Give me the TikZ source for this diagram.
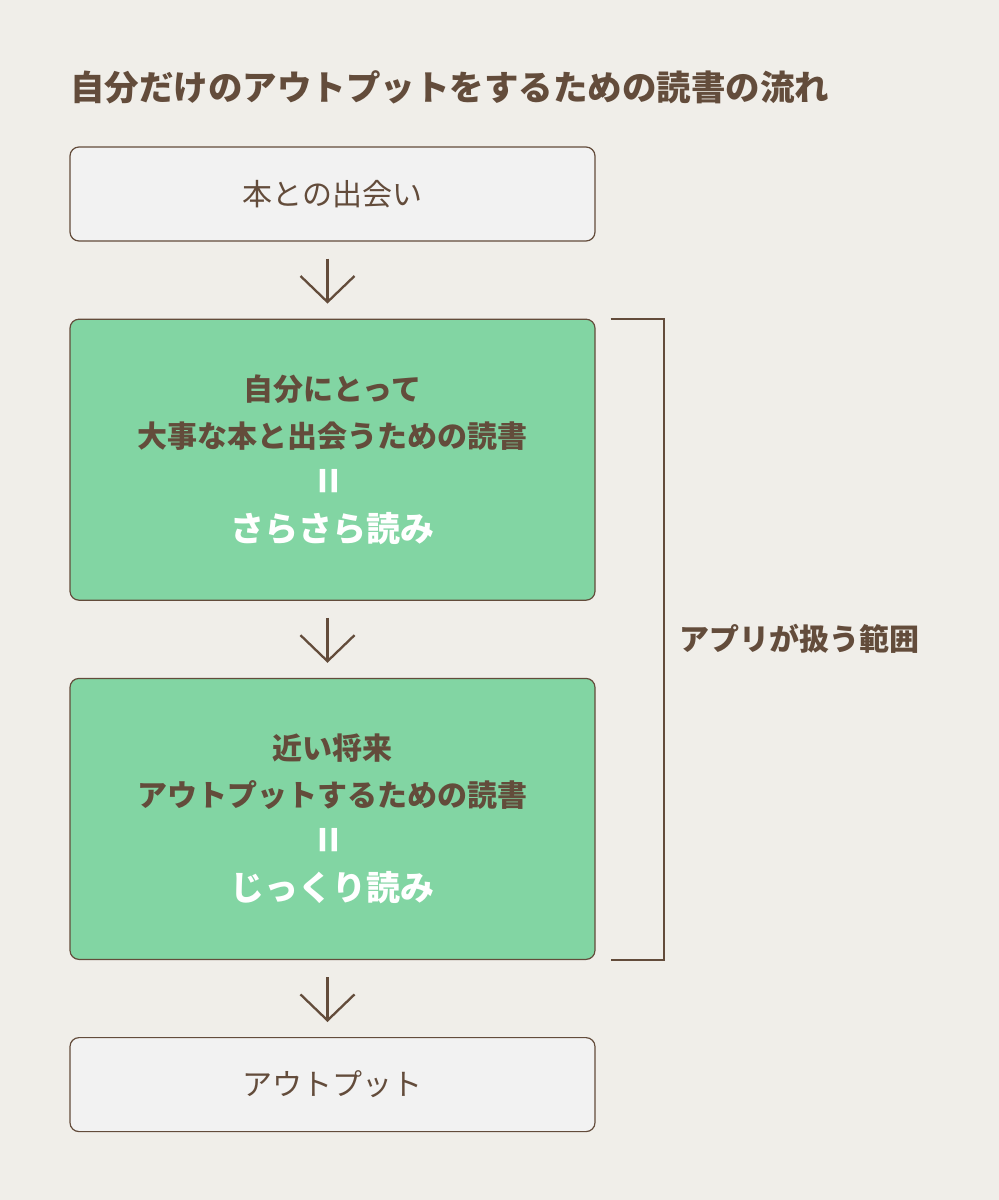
\documentclass[tikz,border=0pt]{standalone}
\usepackage{fontspec}
\setmainfont{Noto Sans CJK JP}
\usepackage{graphicx}
\usetikzlibrary{positioning,arrows.meta,calc}
\definecolor{bgbeige}{HTML}{F0EEE9}
\definecolor{inkbrown}{HTML}{634C3B}
\definecolor{readgreen}{HTML}{82D5A3}
\definecolor{endgray}{HTML}{F2F2F2}
\newcommand{\vequal}{\rotatebox{90}{=}}
\begin{document}
\begin{tikzpicture}[
    x=1pt, y=-1pt,
    every node/.append style={text=inkbrown},
    node distance=77pt,
    endbox/.style={rectangle, draw=inkbrown, line width=1.2pt, fill=endgray, minimum width=525pt, minimum height=94pt, rounded corners=9pt, font=\fontsize{30}{36}\selectfont},
    readbox/.style={rectangle, draw=inkbrown, line width=1.2pt, fill=readgreen, minimum width=525pt, minimum height=281pt, rounded corners=9pt, align=center, font=\fontsize{30}{47}\selectfont\bfseries},
    flow/.style={draw=inkbrown, line width=2.3pt, -{Straight Barb[length=26pt,width=54pt,line width=2.3pt]}},
    bracket/.style={draw=inkbrown, line width=2pt}
]
    % Fondo y titulo
    \fill[bgbeige] (0,0) rectangle (999,1200);
    \useasboundingbox (0,0) rectangle (999,1200);
    \node[anchor=west, font=\fontsize{34.5}{40}\selectfont\bfseries, inner sep=0pt] (title) at (70,87) {自分だけのアウトプットをするための読書の流れ};

    % Nodos del flujo
    \node[endbox] (meet) at (332.5,194) {本との出会い};
    \node[readbox, below=of meet] (skim) {自分にとって\\大事な本と出会うための読書\\{\color{white}\fontsize{44}{47}\selectfont\vequal}\\{\color{white}\fontsize{34}{47}\selectfont さらさら読み}};
    \node[readbox, below=of skim] (deep) {近い将来\\アウトプットするための読書\\{\color{white}\fontsize{44}{47}\selectfont\vequal}\\{\color{white}\fontsize{34}{47}\selectfont じっくり読み}};
    \node[endbox, below=of deep] (output) {アウトプット};

    % Flechas
    \draw[flow] ([xshift=-5pt,yshift=-17pt]meet.south) -- ([xshift=-5pt,yshift=15pt]skim.north);
    \draw[flow] ([xshift=-5pt,yshift=-17pt]skim.south) -- ([xshift=-5pt,yshift=15pt]deep.north);
    \draw[flow] ([xshift=-5pt,yshift=-17pt]deep.south) -- ([xshift=-5pt,yshift=15pt]output.north);

    % Rango de la app
    \coordinate (apptop) at ([xshift=15pt]skim.north east);
    \coordinate (appbot) at ([xshift=15pt]deep.south east);
    \draw[bracket] (apptop) -- ++(53,0) coordinate (topcorner) |- (appbot);
    \node[anchor=west, xshift=12pt, font=\fontsize{30}{36}\selectfont\bfseries] (range) at ($(topcorner)!0.5!(topcorner|-appbot)$) {アプリが扱う範囲};
\end{tikzpicture}
\end{document}
